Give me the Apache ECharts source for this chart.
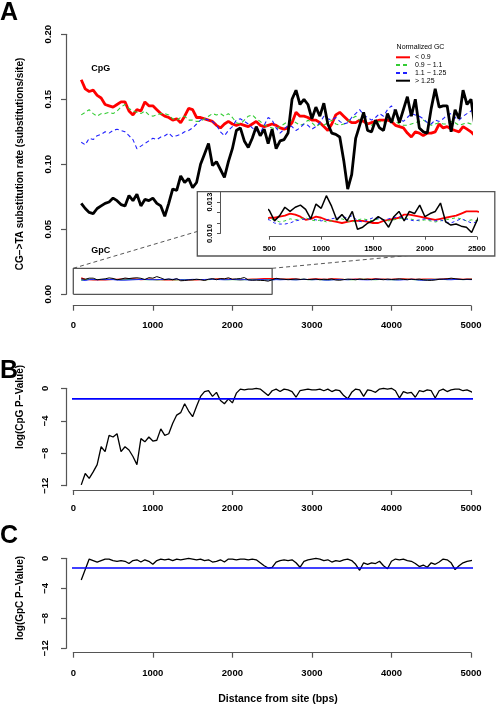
<!DOCTYPE html>
<html><head><meta charset="utf-8">
<script src="https://cdn.jsdelivr.net/npm/echarts@6/dist/echarts.min.js"></script>
<style>html,body{margin:0;padding:0;background:#fff}#c{width:496px;height:705px}</style>
</head><body><div id="c"></div>
<script>
// ---------- DATA ----------
const positions = [
  100,150,200,250,300,350,400,450,500,550,
  600,650,700,750,800,850,900,950,1000,1050,
  1100,1150,1200,1250,1300,1350,1400,1450,1500,1550,
  1600,1650,1700,1750,1800,1850,1900,1950,2000,2050,
  2100,2150,2200,2250,2300,2350,2400,2450,2500,2550,
  2600,2650,2700,2750,2800,2850,2900,2950,3000,3050,
  3100,3150,3200,3250,3300,3350,3400,3450,3500,3550,
  3600,3650,3700,3750,3800,3850,3900,3950,4000,4050,
  4100,4150,4200,4250,4300,4350,4400,4450,4500,4550,
  4600,4650,4700,4750,4800,4850,4900,4950,5000,5050
];
const groupNames = ['< 0.9', '0.9 \u2212 1.1', '1.1 \u2212 1.25', '> 1.25'];

// CpG substitution rates
const cpgLow = [
  0.165,0.158,0.156,0.157,0.153,0.151,0.146,0.145,0.144,0.146,
  0.148,0.148,0.141,0.138,0.142,0.141,0.148,0.145,0.145,0.142,
  0.139,0.137,0.136,0.134,0.135,0.132,0.137,0.143,0.142,0.136,
  0.136,0.135,0.134,0.133,0.130,0.128,0.131,0.133,0.131,0.130,
  0.131,0.130,0.129,0.131,0.133,0.130,0.129,0.130,0.131,0.130,
  0.128,0.127,0.128,0.132,0.140,0.137,0.137,0.136,0.134,0.134,
  0.132,0.129,0.126,0.131,0.138,0.140,0.137,0.134,0.132,0.132,
  0.134,0.133,0.131,0.132,0.133,0.134,0.134,0.134,0.133,0.130,
  0.129,0.128,0.124,0.121,0.125,0.124,0.122,0.124,0.124,0.125,
  0.131,0.128,0.129,0.127,0.126,0.125,0.129,0.127,0.125,0.122
];
const cpgMid = [
  0.138,0.140,0.142,0.139,0.137,0.139,0.139,0.140,0.139,0.141,
  0.144,0.146,0.143,0.141,0.140,0.139,0.141,0.138,0.137,0.138,
  0.139,0.139,0.138,0.135,0.134,0.136,0.137,0.134,0.134,0.133,
  0.133,0.135,0.137,0.139,0.138,0.139,0.137,0.139,0.136,0.132,
  0.131,0.134,0.137,0.138,0.135,0.133,0.130,0.129,0.128,0.127,
  0.129,0.131,0.133,0.134,0.132,0.130,0.131,0.134,0.132,0.129,
  0.131,0.130,0.132,0.134,0.131,0.130,0.131,0.133,0.135,0.137,
  0.134,0.133,0.131,0.130,0.132,0.133,0.132,0.134,0.134,0.133,
  0.131,0.130,0.130,0.131,0.132,0.133,0.134,0.132,0.130,0.131,
  0.132,0.131,0.131,0.133,0.132,0.130,0.131,0.132,0.131,0.130
];
const cpgHigh = [
  0.117,0.115,0.120,0.119,0.122,0.123,0.125,0.124,0.126,0.127,
  0.126,0.125,0.122,0.119,0.112,0.114,0.116,0.118,0.120,0.119,
  0.121,0.122,0.124,0.121,0.122,0.123,0.125,0.126,0.128,0.131,
  0.134,0.135,0.134,0.133,0.130,0.125,0.122,0.126,0.129,0.134,
  0.135,0.133,0.131,0.128,0.126,0.124,0.130,0.136,0.134,0.128,
  0.124,0.127,0.130,0.129,0.126,0.128,0.131,0.130,0.127,0.129,
  0.132,0.137,0.135,0.134,0.136,0.133,0.131,0.132,0.136,0.139,
  0.142,0.138,0.136,0.134,0.136,0.139,0.137,0.142,0.145,0.140,
  0.135,0.133,0.136,0.139,0.138,0.137,0.135,0.132,0.131,0.134,
  0.133,0.135,0.138,0.139,0.136,0.134,0.137,0.139,0.141,0.143
];
const cpgTop = [
  0.070,0.066,0.063,0.062,0.066,0.068,0.070,0.071,0.074,0.072,
  0.069,0.068,0.076,0.072,0.077,0.068,0.073,0.072,0.074,0.070,
  0.068,0.060,0.070,0.081,0.080,0.091,0.086,0.089,0.082,0.086,
  0.100,0.108,0.116,0.099,0.102,0.096,0.090,0.102,0.112,0.126,
  0.128,0.118,0.113,0.120,0.129,0.122,0.127,0.116,0.127,0.112,
  0.118,0.119,0.124,0.150,0.157,0.146,0.150,0.146,0.135,0.144,
  0.137,0.147,0.131,0.124,0.123,0.121,0.103,0.081,0.092,0.120,
  0.130,0.140,0.126,0.125,0.134,0.128,0.126,0.139,0.132,0.142,
  0.132,0.142,0.152,0.137,0.150,0.128,0.125,0.124,0.143,0.158,
  0.144,0.145,0.145,0.125,0.142,0.135,0.157,0.146,0.150,0.129
];

// GpC substitution rates
const gpcLow = [
  0.0126,0.0116,0.0112,0.0110,0.0110,0.0110,0.0111,0.0113,0.0115,0.0115,
  0.0116,0.0117,0.0119,0.0118,0.0116,0.0113,0.0114,0.0116,0.0115,0.0113,
  0.0112,0.0111,0.0110,0.0111,0.0112,0.0112,0.0112,0.0111,0.0110,0.0110,
  0.0112,0.0113,0.0114,0.0115,0.0118,0.0118,0.0117,0.0116,0.0115,0.0114,
  0.0113,0.0114,0.0115,0.0116,0.0117,0.0119,0.0121,0.0121,0.0121,0.0120,
  0.0117,0.0116,0.0117,0.0118,0.0117,0.0115,0.0114,0.0115,0.0117,0.0118,
  0.0117,0.0115,0.0116,0.0118,0.0119,0.0117,0.0115,0.0114,0.0115,0.0116,
  0.0116,0.0115,0.0116,0.0117,0.0118,0.0117,0.0116,0.0115,0.0115,0.0116,
  0.0117,0.0118,0.0117,0.0116,0.0115,0.0115,0.0116,0.0117,0.0116,0.0115,
  0.0116,0.0117,0.0118,0.0118,0.0117,0.0116,0.0115,0.0116,0.0117,0.0116
];
const gpcMid = [
  0.0107,0.0111,0.0115,0.0113,0.0114,0.0113,0.0114,0.0113,0.0114,0.0113,
  0.0111,0.0112,0.0114,0.0113,0.0114,0.0115,0.0113,0.0112,0.0113,0.0111,
  0.0112,0.0113,0.0114,0.0112,0.0111,0.0113,0.0114,0.0113,0.0112,0.0114,
  0.0113,0.0112,0.0113,0.0114,0.0115,0.0114,0.0113,0.0112,0.0113,0.0112,
  0.0111,0.0112,0.0113,0.0114,0.0115,0.0114,0.0112,0.0113,0.0112,0.0114,
  0.0113,0.0114,0.0115,0.0113,0.0112,0.0114,0.0115,0.0113,0.0112,0.0114,
  0.0113,0.0111,0.0110,0.0112,0.0114,0.0115,0.0114,0.0113,0.0112,0.0113,
  0.0115,0.0116,0.0114,0.0113,0.0112,0.0114,0.0115,0.0113,0.0112,0.0111,
  0.0113,0.0114,0.0115,0.0114,0.0112,0.0110,0.0111,0.0113,0.0114,0.0116,
  0.0115,0.0114,0.0113,0.0114,0.0115,0.0114,0.0113,0.0114,0.0115,0.0114
];
const gpcHigh = [
  0.0112,0.0106,0.0113,0.0114,0.0112,0.0114,0.0113,0.0114,0.0113,0.0110,
  0.0109,0.0109,0.0110,0.0112,0.0113,0.0114,0.0114,0.0113,0.0112,0.0113,
  0.0114,0.0115,0.0116,0.0115,0.0117,0.0112,0.0111,0.0113,0.0115,0.0114,
  0.0113,0.0114,0.0115,0.0116,0.0114,0.0113,0.0112,0.0113,0.0114,0.0113,
  0.0112,0.0113,0.0111,0.0110,0.0112,0.0114,0.0112,0.0110,0.0111,0.0113,
  0.0112,0.0113,0.0114,0.0112,0.0111,0.0113,0.0115,0.0114,0.0112,0.0113,
  0.0114,0.0110,0.0109,0.0111,0.0113,0.0114,0.0113,0.0112,0.0114,0.0115,
  0.0113,0.0112,0.0111,0.0113,0.0114,0.0116,0.0114,0.0112,0.0113,0.0111,
  0.0110,0.0112,0.0113,0.0115,0.0113,0.0109,0.0108,0.0110,0.0112,0.0114,
  0.0116,0.0115,0.0113,0.0112,0.0114,0.0115,0.0113,0.0114,0.0113,0.0114
];
const gpcTop = [
  0.0119,0.0116,0.0124,0.0124,0.0112,0.0116,0.0119,0.0126,0.0122,0.0112,
  0.0117,0.0125,0.0121,0.0125,0.0127,0.0123,0.0114,0.0128,0.0124,0.0136,
  0.0126,0.0113,0.0118,0.0112,0.0121,0.0104,0.0106,0.0110,0.0112,0.0116,
  0.0113,0.0106,0.0116,0.0121,0.0112,0.0121,0.0119,0.0127,0.0116,0.0119,
  0.0121,0.0129,0.0111,0.0108,0.0109,0.0107,0.0106,0.0101,0.0112,0.0123,
  0.0118,0.0116,0.0112,0.0115,0.0118,0.0114,0.0117,0.0113,0.0115,0.0117,
  0.0112,0.0116,0.0114,0.0118,0.0110,0.0108,0.0113,0.0117,0.0115,0.0112,
  0.0117,0.0114,0.0116,0.0113,0.0118,0.0115,0.0112,0.0117,0.0114,0.0116,
  0.0119,0.0115,0.0112,0.0116,0.0114,0.0117,0.0111,0.0108,0.0107,0.0110,
  0.0115,0.0117,0.0119,0.0124,0.0120,0.0116,0.0114,0.0116,0.0115,0.0116
];

// log P-values
const cpgLogP = [
  -11.9,-10.5,-11.1,-10.3,-9.4,-7.2,-7.8,-5.8,-6.0,-5.6,
  -7.8,-7.2,-7.6,-8.4,-9.4,-6.2,-6.6,-6.0,-6.5,-6.4,
  -5.0,-5.8,-5.6,-4.3,-3.3,-3.0,-1.9,-2.8,-3.5,-2.2,
  -1.0,-0.4,-0.3,-1.0,-0.5,-1.5,-1.9,-1.3,-1.8,-0.6,
  -0.1,-0.2,-0.1,-0.1,0.0,-0.1,-0.5,-0.9,-0.3,-0.1,
  -0.4,-0.1,-0.2,-0.4,-1.1,-0.3,-0.2,-0.1,-0.2,-0.2,
  -0.1,-0.3,-0.1,-0.4,-0.2,-0.3,-0.9,-1.3,-0.5,-0.1,
  -0.2,-1.0,-0.2,-0.3,-0.5,-0.1,0.0,-0.1,0.0,-0.3,
  -1.2,-0.4,-0.6,-0.5,-1.1,-0.3,-0.4,-0.2,-0.3,-1.2,
  -0.3,-0.1,-0.4,-0.2,-0.1,-0.1,-0.3,-0.2,-0.4,-0.7
];
const gpcLogP = [
  -2.9,-1.5,-0.1,-0.3,-0.5,-0.3,-0.1,-0.1,-0.3,-0.4,
  -0.3,-0.4,-0.7,-0.3,-0.2,-0.5,-0.2,-0.4,-0.8,-0.3,
  -0.1,-0.2,-0.1,-0.3,-0.1,-0.2,-0.1,0.0,-0.1,-0.2,
  -0.1,-0.3,-0.2,-0.5,-0.4,-0.2,-0.5,-0.1,-0.1,-0.2,
  -0.1,-0.1,-0.2,-0.1,-0.2,-0.6,-1.0,-1.3,-1.2,-0.5,
  -0.3,-0.2,-0.3,-0.2,-0.6,-1.2,-0.4,-0.2,-0.1,0.0,
  -0.1,-0.3,-0.2,-0.5,-0.3,-0.4,-0.2,-0.1,-0.3,-0.8,
  -1.6,-0.6,-0.8,-0.6,-0.7,-0.4,-1.0,-1.4,-0.4,-0.1,
  -0.2,-0.1,-0.3,-0.4,-0.7,-1.1,-0.9,-1.2,-0.6,-0.8,
  -0.5,-0.1,-0.2,-0.6,-1.5,-1.0,-0.6,-0.4,-0.3,-0.2
];

const significance = -1.3;            // log10(0.05)
const plotSpanX = [-98, 5248];        // x extent of the plot region
const zoomRegion = [[0,0],[2500,0],[2500,0.02],[0,0.02],[0,0]];
const connectorLeft = [[0,0.02],[1970,0.0558]];
const connectorRight = [[2500,0.02],[4360,0.0307]];
const insetMaxX = 2600;
const insetYLabels = ['0.010','0.013'];

// ---------- CHART ----------
const FONT = '"Liberation Sans", Arial, Helvetica, sans-serif';
const chart = echarts.init(document.getElementById('c'), null, {renderer: 'canvas'});
const pairs = (xs, ys) => xs.map((x, i) => [x, ys[i]]);
const insetCount = positions.filter(p => p <= insetMaxX).length;

const axisColor = '#555';
const plainNum = v => String(v);
function valAxis(extra) {
  return Object.assign({
    type: 'value',
    splitLine: {show: false},
    axisLine: {show: true, onZero: false, lineStyle: {color: axisColor, width: 1.2}},
    axisTick: {show: true, length: 5, lineStyle: {color: axisColor, width: 1.2}},
    axisLabel: {color: '#000', fontFamily: FONT, fontWeight: 'bold', fontSize: 9.5}
  }, extra);
}
function xLab(size, margin) {
  return {color: '#000', fontFamily: FONT, fontWeight: 'bold', fontSize: size, margin: margin, formatter: plainNum};
}

const mainStyles = [
  {color: '#ff0000', width: 2.8, type: 'solid'},
  {color: '#33cc33', width: 1.1, type: [4, 3]},
  {color: '#2020ff', width: 1.1, type: [4, 3]},
  {color: '#000000', width: 2.8, type: 'solid'}
];
const gpcStyles = [
  {color: '#ff0000', width: 1.2, type: 'solid'},
  {color: '#33cc33', width: 1.0, type: 'solid'},
  {color: '#2020ff', width: 1.0, type: 'solid'},
  {color: '#000000', width: 1.0, type: 'solid'}
];
const insetStyles = [
  {color: '#ff0000', width: 1.8, type: 'solid'},
  {color: '#33cc33', width: 1.0, type: [3, 3]},
  {color: '#2020ff', width: 1.0, type: [3, 3]},
  {color: '#000000', width: 1.5, type: 'solid'}
];
const cpgSets = [cpgLow, cpgMid, cpgHigh, cpgTop];
const gpcSets = [gpcLow, gpcMid, gpcHigh, gpcTop];

const base = {type: 'line', symbol: 'none', showSymbol: false, clip: false, silent: true, animation: false,
  emphasis: {disabled: true}, itemStyle: {opacity: 0}};
const series = [];
cpgSets.forEach((vals, i) => series.push(Object.assign({}, base, {
  name: groupNames[i], xAxisIndex: 0, yAxisIndex: 0, data: pairs(positions, vals), lineStyle: mainStyles[i], z: 3
})));
series.push(Object.assign({}, base, {name: 'region', xAxisIndex: 0, yAxisIndex: 0, data: zoomRegion,
  lineStyle: {color: '#555', width: 1.3}, z: 2}));
series.push(Object.assign({}, base, {name: 'link1', xAxisIndex: 0, yAxisIndex: 0, data: connectorLeft,
  lineStyle: {color: '#444', width: 0.9, type: [4, 3]}, z: 2}));
series.push(Object.assign({}, base, {name: 'link2', xAxisIndex: 0, yAxisIndex: 0, data: connectorRight,
  lineStyle: {color: '#444', width: 0.9, type: [4, 3]}, z: 2}));
gpcSets.forEach((vals, i) => series.push(Object.assign({}, base, {
  name: groupNames[i], xAxisIndex: 0, yAxisIndex: 0, data: pairs(positions, vals), lineStyle: gpcStyles[i], z: 3
})));
gpcSets.forEach((vals, i) => series.push(Object.assign({}, base, {
  name: groupNames[i], xAxisIndex: 2, yAxisIndex: 2, zlevel: 1, z: 3,
  data: pairs(positions.slice(0, insetCount), vals.slice(0, insetCount)), lineStyle: insetStyles[i]
})));
// B
series.push(Object.assign({}, base, {name: 'cpgP', xAxisIndex: 3, yAxisIndex: 3,
  data: pairs(positions, cpgLogP), lineStyle: {color: '#000', width: 1.3}}));
series.push(Object.assign({}, base, {name: 'thrB', xAxisIndex: 3, yAxisIndex: 3,
  data: plotSpanX.map(x => [x, significance]), lineStyle: {color: '#0000ff', width: 1.6}}));
// C
series.push(Object.assign({}, base, {name: 'gpcP', xAxisIndex: 4, yAxisIndex: 4,
  data: pairs(positions, gpcLogP), lineStyle: {color: '#000', width: 1.3}}));
series.push(Object.assign({}, base, {name: 'thrC', xAxisIndex: 4, yAxisIndex: 4,
  data: plotSpanX.map(x => [x, significance]), lineStyle: {color: '#0000ff', width: 1.6}}));

const minusFmt = v => v === 0 ? '0' : (v < 0 ? '\u2212' + Math.abs(v) : String(v));

function txt(text, x, y, size, opts) {
  return Object.assign({
    type: 'text', x: x, y: y, silent: true,
    style: Object.assign({text: text, fontFamily: FONT, fontSize: size, fontWeight: 'bold',
      fill: '#000', align: 'center', verticalAlign: 'middle'}, (opts && opts.style) || {})
  }, (opts && opts.rot) ? {rotation: Math.PI / 2} : {});
}

const option = {
  animation: false,
  backgroundColor: '#ffffff',
  textStyle: {fontFamily: FONT},
  grid: [
    {left: 73.3, top: 34.3, width: 397.7, height: 260},
    {left: 197.3, top: 191.7, width: 297.5, height: 64.3, show: true, backgroundColor: '#ffffff',
      borderColor: '#555', borderWidth: 1.3, zlevel: 1},
    {left: 269.3, top: 191.5, width: 207.5, height: 42, zlevel: 1},
    {left: 73.3, top: 388.3, width: 397.7, height: 97.4},
    {left: 73.3, top: 558.3, width: 397.7, height: 90}
  ],
  xAxis: [
    valAxis({gridIndex: 0, min: 0, max: 5000, interval: 1000, offset: 11.4, axisLabel: xLab(9.5, 15)}),
    {gridIndex: 1, type: 'value', show: false, min: 0, max: 1},
    valAxis({gridIndex: 2, min: 500, max: 2500, interval: 500, offset: 3.2, zlevel: 1,
      axisTick: {show: true, length: 3, lineStyle: {color: axisColor, width: 1}},
      axisLine: {show: true, onZero: false, lineStyle: {color: axisColor, width: 1}},
      axisLabel: xLab(8, 8)}),
    valAxis({gridIndex: 3, min: 0, max: 5000, interval: 1000, offset: 4.3, axisLabel: xLab(9.5, 13.5)}),
    valAxis({gridIndex: 4, min: 0, max: 5000, interval: 1000, offset: 4.4, axisLabel: xLab(9.5, 15.5)})
  ],
  yAxis: [
    valAxis({gridIndex: 0, min: 0, max: 0.2, interval: 0.05, offset: 7.3,
      axisLabel: {color: '#000', fontFamily: FONT, fontWeight: 'bold', fontSize: 9.5, rotate: 90,
        align: 'center', verticalAlign: 'bottom', margin: 13, formatter: v => v.toFixed(2)}}),
    {gridIndex: 1, type: 'value', show: false, min: 0, max: 1},
    valAxis({gridIndex: 2, min: 0.010, max: 0.014, interval: 0.001, offset: 49.3, zlevel: 1,
      axisTick: {show: true, length: 3, lineStyle: {color: axisColor, width: 1}},
      axisLine: {show: true, onZero: false, lineStyle: {color: axisColor, width: 1}},
      axisLabel: {color: '#000', fontFamily: FONT, fontWeight: 'bold', fontSize: 7.5, rotate: 90,
        align: 'center', verticalAlign: 'bottom', margin: 6,
        formatter: v => insetYLabels.indexOf(v.toFixed(3)) >= 0 ? v.toFixed(3) : ''}}),
    valAxis({gridIndex: 3, min: -12, max: 0, interval: 4, offset: 7.3,
      axisLabel: {color: '#000', fontFamily: FONT, fontWeight: 'bold', fontSize: 9.5, rotate: 90,
        align: 'center', verticalAlign: 'bottom', margin: 16, formatter: minusFmt}}),
    valAxis({gridIndex: 4, min: -12, max: 0, interval: 4, offset: 7.3,
      axisLabel: {color: '#000', fontFamily: FONT, fontWeight: 'bold', fontSize: 9.5, rotate: 90,
        align: 'center', verticalAlign: 'bottom', margin: 16, formatter: minusFmt}})
  ],
  legend: {
    data: groupNames, orient: 'vertical', left: 395, top: 53.4, padding: 0,
    itemWidth: 14, itemHeight: 7, itemGap: 0, selectedMode: false,
    itemStyle: {opacity: 0},
    textStyle: {fontFamily: FONT, fontSize: 7, lineHeight: 7.8, color: '#000'}
  },
  graphic: [
    txt('A', 9, 13.5, 25),
    txt('B', 9, 371, 25),
    txt('C', 9, 536.5, 25),
    txt('CpG', 100.8, 68.3, 9),
    txt('GpC', 100.8, 250.7, 9),
    txt('Normalized GC', 420.5, 47, 7, {style: {fontWeight: 'normal'}}),
    txt('CG\u2212>TA substitution rate (substitutions/site)', 20, 164, 10, {rot: true}),
    txt('log(CpG P\u2212Value)', 20.5, 407, 10, {rot: true}),
    txt('log(GpC P\u2212Value)', 20.5, 598, 10, {rot: true}),
    txt('Distance from site (bps)', 278, 699, 10.5)
  ],
  series: series
};
chart.setOption(option);
</script></body></html>
